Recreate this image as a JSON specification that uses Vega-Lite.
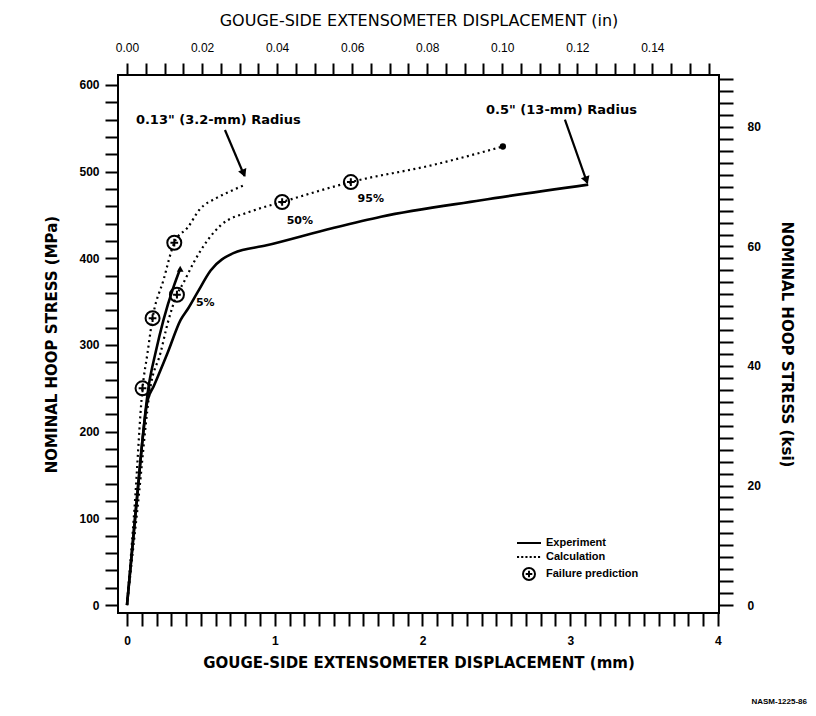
{
  "$schema": "https://vega.github.io/schema/vega-lite/v6.json",
  "width": 601,
  "height": 538,
  "autosize": "none",
  "padding": {"left": 118, "top": 75, "right": 97, "bottom": 103},
  "background": "white",
  "title": {"text": "NASM-1225-86", "orient": "bottom", "anchor": "end", "frame": "group", "fontSize": 8, "font": "Liberation Sans", "fontWeight": "bold", "color": "black", "offset": 28, "dx": 88},
  "config": {
    "view": {"stroke": "black", "strokeWidth": 2},
    "axis": {
      "labelFont": "Liberation Sans", "labelFontSize": 12, "labelFontWeight": "bold", "labelColor": "black",
      "titleFont": "DejaVu Sans", "titleFontSize": 15, "titleFontWeight": "bold", "titleColor": "black",
      "tickColor": "black", "ticks": true, "domain": false, "grid": false,
      "labelOverlap": false, "labelFlush": false, "labelBound": false
    },
    "legend": {
      "orient": "none", "legendX": 404, "legendY": 461, "title": null,
      "labelFont": "Liberation Sans", "labelFontSize": 11, "labelFontWeight": "bold", "labelColor": "black",
      "symbolSize": 144, "symbolStrokeWidth": 2, "symbolStrokeColor": "black", "symbolFillColor": "transparent",
      "labelOffset": 10, "rowPadding": 2, "padding": 0
    }
  },
  "datasets": {
    "curves": [
      {"type": "Experiment", "series": "0.5 in", "x": 0, "y": 0},
      {"type": "Experiment", "series": "0.5 in", "x": 0.06, "y": 110},
      {"type": "Experiment", "series": "0.5 in", "x": 0.139, "y": 236},
      {"type": "Experiment", "series": "0.5 in", "x": 0.18, "y": 252},
      {"type": "Experiment", "series": "0.5 in", "x": 0.275, "y": 291},
      {"type": "Experiment", "series": "0.5 in", "x": 0.363, "y": 329},
      {"type": "Experiment", "series": "0.5 in", "x": 0.417, "y": 343},
      {"type": "Experiment", "series": "0.5 in", "x": 0.478, "y": 361},
      {"type": "Experiment", "series": "0.5 in", "x": 0.566, "y": 386},
      {"type": "Experiment", "series": "0.5 in", "x": 0.72, "y": 406},
      {"type": "Experiment", "series": "0.5 in", "x": 0.945, "y": 415},
      {"type": "Experiment", "series": "0.5 in", "x": 1.395, "y": 435},
      {"type": "Experiment", "series": "0.5 in", "x": 1.719, "y": 448},
      {"type": "Experiment", "series": "0.5 in", "x": 2.397, "y": 467},
      {"type": "Experiment", "series": "0.5 in", "x": 3.122, "y": 485},
      {"type": "Experiment", "series": "0.13 in", "x": 0, "y": 0},
      {"type": "Experiment", "series": "0.13 in", "x": 0.06, "y": 110},
      {"type": "Experiment", "series": "0.13 in", "x": 0.146, "y": 252},
      {"type": "Experiment", "series": "0.13 in", "x": 0.193, "y": 291},
      {"type": "Experiment", "series": "0.13 in", "x": 0.247, "y": 329},
      {"type": "Experiment", "series": "0.13 in", "x": 0.315, "y": 367},
      {"type": "Experiment", "series": "0.13 in", "x": 0.36, "y": 388},
      {"type": "Calculation", "series": "0.13 in", "x": 0, "y": 0},
      {"type": "Calculation", "series": "0.13 in", "x": 0.05, "y": 110},
      {"type": "Calculation", "series": "0.13 in", "x": 0.105, "y": 250},
      {"type": "Calculation", "series": "0.13 in", "x": 0.139, "y": 291},
      {"type": "Calculation", "series": "0.13 in", "x": 0.173, "y": 331},
      {"type": "Calculation", "series": "0.13 in", "x": 0.247, "y": 375},
      {"type": "Calculation", "series": "0.13 in", "x": 0.32, "y": 418},
      {"type": "Calculation", "series": "0.13 in", "x": 0.413, "y": 436},
      {"type": "Calculation", "series": "0.13 in", "x": 0.49, "y": 456},
      {"type": "Calculation", "series": "0.13 in", "x": 0.61, "y": 470},
      {"type": "Calculation", "series": "0.13 in", "x": 0.72, "y": 479},
      {"type": "Calculation", "series": "0.13 in", "x": 0.8, "y": 485},
      {"type": "Calculation", "series": "0.5 in", "x": 0, "y": 0},
      {"type": "Calculation", "series": "0.5 in", "x": 0.07, "y": 110},
      {"type": "Calculation", "series": "0.5 in", "x": 0.159, "y": 252},
      {"type": "Calculation", "series": "0.5 in", "x": 0.227, "y": 291},
      {"type": "Calculation", "series": "0.5 in", "x": 0.275, "y": 325},
      {"type": "Calculation", "series": "0.5 in", "x": 0.338, "y": 358},
      {"type": "Calculation", "series": "0.5 in", "x": 0.383, "y": 372},
      {"type": "Calculation", "series": "0.5 in", "x": 0.451, "y": 395},
      {"type": "Calculation", "series": "0.5 in", "x": 0.546, "y": 421},
      {"type": "Calculation", "series": "0.5 in", "x": 0.634, "y": 438},
      {"type": "Calculation", "series": "0.5 in", "x": 0.837, "y": 454},
      {"type": "Calculation", "series": "0.5 in", "x": 1.05, "y": 465},
      {"type": "Calculation", "series": "0.5 in", "x": 1.515, "y": 488},
      {"type": "Calculation", "series": "0.5 in", "x": 2.078, "y": 508},
      {"type": "Calculation", "series": "0.5 in", "x": 2.544, "y": 529}
    ],
    "failures": [
      {"kind": "Failure prediction", "x": 0.105, "y": 250},
      {"kind": "Failure prediction", "x": 0.173, "y": 331},
      {"kind": "Failure prediction", "x": 0.32, "y": 418},
      {"kind": "Failure prediction", "x": 0.338, "y": 358},
      {"kind": "Failure prediction", "x": 1.05, "y": 465},
      {"kind": "Failure prediction", "x": 1.515, "y": 488}
    ],
    "percents": [
      {"label": "5%", "x": 0.53, "y": 349},
      {"label": "50%", "x": 1.17, "y": 443},
      {"label": "95%", "x": 1.65, "y": 468}
    ],
    "notes": [
      {"label": "0.13\" (3.2-mm) Radius", "x": 0.06, "y": 560},
      {"label": "0.5\" (13-mm) Radius", "x": 2.43, "y": 571}
    ],
    "arrows": [
      {"arrow": "small", "x": 0.663, "y": 548, "x2": 0.795, "y2": 495},
      {"arrow": "large", "x": 2.964, "y": 560, "x2": 3.115, "y2": 487}
    ],
    "heads": [
      {"arrow": "small", "x": 0.79, "y": 498},
      {"arrow": "large", "x": 3.11, "y": 490}
    ],
    "ends": [
      {"end": "calc", "x": 2.544, "y": 529},
      {"end": "exp", "x": 0.36, "y": 388}
    ],
    "secondary": [{"inch": 0, "ksi": 0}]
  },
  "layer": [
    {
      "encoding": {
        "x": {
          "field": "x", "type": "quantitative",
          "scale": {"domain": [-0.061, 4.007], "nice": false, "zero": false},
          "axis": {
            "orient": "bottom",
            "title": "GOUGE-SIDE EXTENSOMETER DISPLACEMENT  (mm)",
            "values": [0,0.1,0.2,0.3,0.4,0.5,0.6,0.7,0.8,0.9,1,1.1,1.2,1.3,1.4,1.5,1.6,1.7,1.8,1.9,2,2.1,2.2,2.3,2.4,2.5,2.6,2.7,2.8,2.9,3,3.1,3.2,3.3,3.4,3.5,3.6,3.7,3.8,3.9,4],
            "labelExpr": "abs(datum.value-round(datum.value))<1e-6 ? format(round(datum.value),'d') : ''",
            "tickSize": 13,
            "tickWidth": 2,
            "labelPadding": 9,
            "titlePadding": 9,
            "encode": {"ticks": {"update": {"y2": {"signal": "abs(datum.value-round(datum.value))<1e-6 ? 13 : 8"}}}}
          }
        },
        "y": {
          "field": "y", "type": "quantitative",
          "scale": {"domain": [-9.2, 611.5], "nice": false, "zero": false},
          "axis": {
            "orient": "left",
            "title": "NOMINAL HOOP STRESS  (MPa)",
            "values": [0,20,40,60,80,100,120,140,160,180,200,220,240,260,280,300,320,340,360,380,400,420,440,460,480,500,520,540,560,580,600],
            "labelExpr": "datum.value % 100 === 0 ? format(datum.value,'d') : ''",
            "tickSize": 13,
            "tickWidth": 2,
            "labelPadding": 6,
            "titlePadding": 19,
            "encode": {"ticks": {"update": {"x2": {"signal": "datum.value % 100 === 0 ? -13 : -8"}}}}
          }
        }
      },
      "layer": [
        {
          "data": {"name": "curves"},
          "transform": [{"filter": "datum.type === 'Experiment'"}],
          "mark": {"type": "line", "color": "black", "strokeWidth": 2.6, "interpolate": "monotone"},
          "encoding": {"detail": {"field": "series", "type": "nominal"}}
        },
        {
          "data": {"name": "curves"},
          "transform": [{"filter": "datum.type === 'Calculation'"}],
          "mark": {"type": "line", "color": "black", "strokeWidth": 2.2, "strokeDash": [2, 3.5], "interpolate": "monotone"},
          "encoding": {"detail": {"field": "series", "type": "nominal"}}
        },
        {
          "data": {"name": "arrows"},
          "mark": {"type": "rule", "color": "black", "strokeWidth": 2.2},
          "encoding": {"x2": {"field": "x2"}, "y2": {"field": "y2"}}
        },
        {
          "data": {"name": "heads"},
          "transform": [{"filter": "datum.arrow === 'small'"}],
          "mark": {"type": "point", "shape": "triangle-up", "filled": true, "color": "black", "opacity": 1, "size": 80, "angle": 157}
        },
        {
          "data": {"name": "heads"},
          "transform": [{"filter": "datum.arrow === 'large'"}],
          "mark": {"type": "point", "shape": "triangle-up", "filled": true, "color": "black", "opacity": 1, "size": 80, "angle": 160}
        },
        {
          "data": {"name": "ends"},
          "transform": [{"filter": "datum.end === 'calc'"}],
          "mark": {"type": "point", "shape": "circle", "filled": true, "color": "black", "opacity": 1, "size": 40}
        },
        {
          "data": {"name": "ends"},
          "transform": [{"filter": "datum.end === 'exp'"}],
          "mark": {"type": "point", "shape": "triangle-up", "filled": true, "color": "black", "opacity": 1, "size": 45}
        },
        {
          "data": {"name": "notes"},
          "mark": {"type": "text", "align": "left", "baseline": "middle", "font": "DejaVu Sans", "fontSize": 13, "fontWeight": "bold", "color": "black"},
          "encoding": {"text": {"field": "label"}}
        },
        {
          "data": {"name": "percents"},
          "mark": {"type": "text", "align": "center", "baseline": "middle", "font": "DejaVu Sans", "fontSize": 11, "fontWeight": "bold", "color": "black"},
          "encoding": {"text": {"field": "label"}}
        },
        {
          "data": {"name": "failures"},
          "mark": {"type": "point", "filled": false, "color": "black", "opacity": 1, "strokeWidth": 2, "size": 196},
          "encoding": {
            "shape": {
              "field": "kind", "type": "nominal",
              "scale": {
                "domain": ["Experiment", "Calculation", "Failure prediction"],
                "range": [
                  "M-2,0L2,0",
                  "M-2,0L-1.65,0M-1.3,0L-0.95,0M-0.6,0L-0.25,0M0.1,0L0.45,0M0.8,0L1.15,0M1.5,0L1.85,0",
                  "M-1,0A1,1 0 1,0 1,0A1,1 0 1,0 -1,0M-0.55,0L0.55,0M0,-0.55L0,0.55"
                ]
              },
              "legend": {"title": null}
            }
          }
        }
      ]
    },
    {
      "data": {"name": "secondary"},
      "mark": {"type": "point", "opacity": 0},
      "encoding": {
        "x": {
          "field": "inch", "type": "quantitative",
          "scale": {"domain": [-0.0024, 0.15776], "nice": false, "zero": false},
          "axis": {
            "orient": "top",
            "title": "GOUGE-SIDE EXTENSOMETER DISPLACEMENT  (in)",
            "titleFontWeight": "normal",
            "titleFontSize": 16,
            "values": [0,0.005,0.01,0.015,0.02,0.025,0.03,0.035,0.04,0.045,0.05,0.055,0.06,0.065,0.07,0.075,0.08,0.085,0.09,0.095,0.1,0.105,0.11,0.115,0.12,0.125,0.13,0.135,0.14,0.145,0.15,0.155],
            "labelExpr": "abs(datum.value*50-round(datum.value*50))<1e-6 ? format(datum.value,'.2f') : ''",
            "labelFontWeight": "normal",
            "tickSize": 12,
            "tickWidth": 2,
            "labelPadding": 9,
            "titlePadding": 13,
            "encode": {"ticks": {"update": {"y2": {"signal": "abs(datum.value*50-round(datum.value*50))<1e-6 ? -12 : -6"}}}}
          }
        },
        "y": {
          "field": "ksi", "type": "quantitative",
          "scale": {"domain": [-1.334, 88.69], "nice": false, "zero": false},
          "axis": {
            "orient": "right",
            "title": "NOMINAL HOOP STRESS  (ksi)",
            "values": [0,2,4,6,8,10,12,14,16,18,20,22,24,26,28,30,32,34,36,38,40,42,44,46,48,50,52,54,56,58,60,62,64,66,68,70,72,74,76,78,80,82,84,86,88],
            "labelExpr": "datum.value % 20 === 0 ? format(datum.value,'d') : ''",
            "tickSize": 14,
            "tickWidth": 2,
            "labelPadding": 14,
            "titlePadding": 18,
            "encode": {"ticks": {"update": {"x2": {"signal": "datum.value % 20 === 0 ? 14 : 8"}}}}
          }
        }
      }
    }
  ],
  "resolve": {"scale": {"x": "independent", "y": "independent"}}
}
